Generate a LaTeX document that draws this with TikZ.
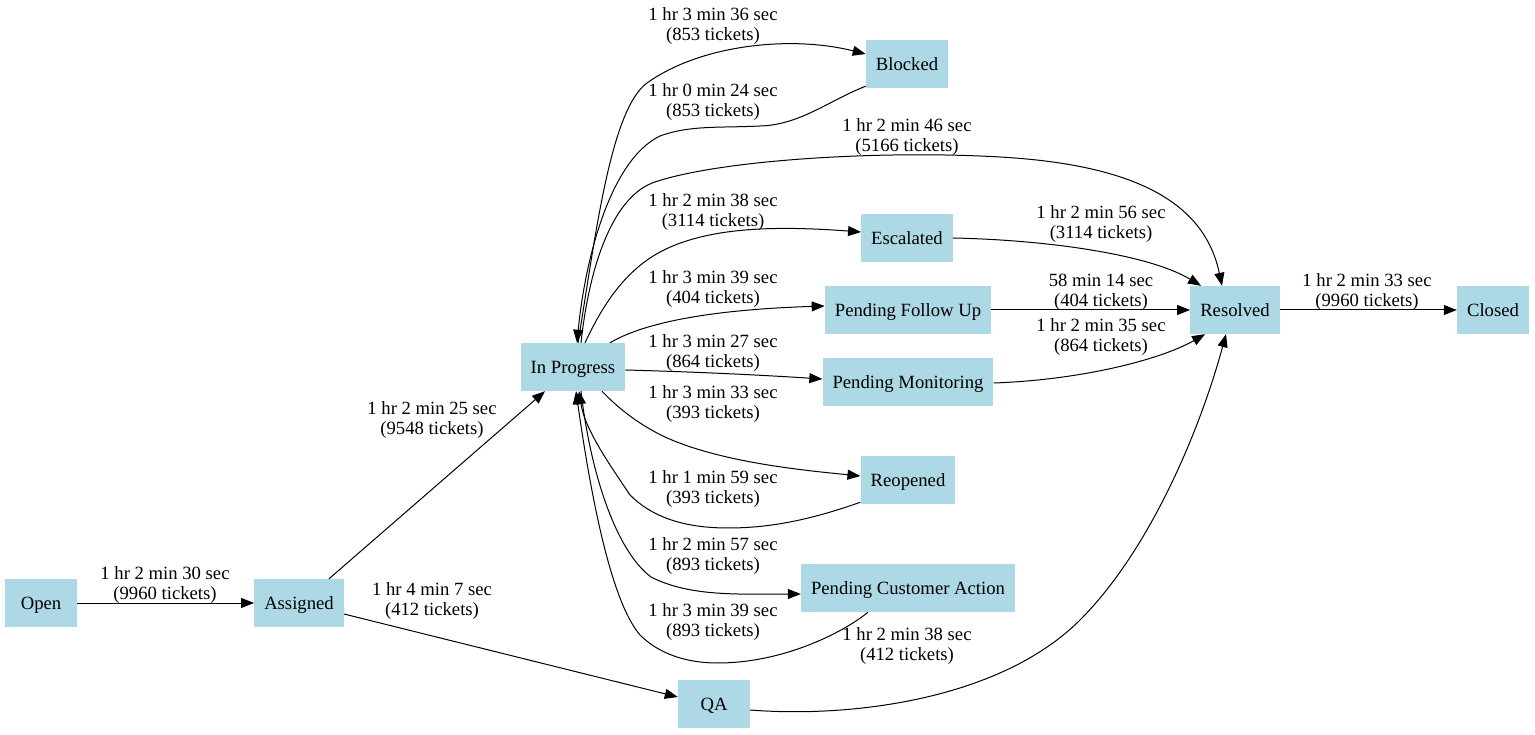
\documentclass[tikz,border=0pt]{standalone}
\usepackage{fontspec}
\setmainfont{Liberation Serif}
\usetikzlibrary{arrows.meta,calc}
\definecolor{lblue}{HTML}{ADD8E6}
\begin{document}
\begin{tikzpicture}[x=1pt,y=-1pt,
  st/.style={fill=lblue, draw=none, minimum width=72pt, minimum height=48pt, inner xsep=10pt, inner ysep=0pt, text height=13pt, text depth=0pt, font=\fontsize{18.67}{20}\selectfont},
  lbl/.style={align=center, font=\fontsize{18.67}{20}\selectfont, inner sep=0pt, yshift=-2pt},
  e/.style={draw=black, line width=1pt, -{Triangle[length=13pt,width=10pt]}},
]
\useasboundingbox (0,0) rectangle (1535,735);
\fill[white] (0,0) rectangle (1535,735);
% nodes
\node[st] (open) at (41,603) {Open};
\node[st] (asg) at (299,603) {Assigned};
\node[st] (ip) at (573,367) {In Progress};
\node[st] (blk) at (907,64) {Blocked};
\node[st] (esc) at (907,238) {Escalated};
\node[st] (pfu) at (908,310) {Pending Follow Up};
\node[st] (pm) at (908,382) {Pending Monitoring};
\node[st] (reo) at (908,480) {Reopened};
\node[st] (pca) at (908,588) {Pending Customer Action};
\node[st] (qa) at (714,704) {QA};
\node[st] (res) at (1235,310) {Resolved};
\node[st] (cls) at (1493,310) {Closed};
% edges
\draw[e] (open) -- (asg);
\draw[e] ($(asg.north)+(30,0)$) -- ($(ip.south)+(-28,0)$);
\draw[e] ($(asg.east)+(0,11)$) -- ($(qa.west)+(0,-7)$);
\draw[e] ($(ip.north)+(5,0)$) .. controls (595,240) and (610,110) .. (647,83)
  .. controls (700,45) and (790,35) .. ($(blk.west)+(0,-10)$);
\draw[e] ($(blk.south west)+(0,-2)$) .. controls (830,100) and (800,125) .. (760,126)
  .. controls (720,128) and (690,125) .. (660,136)
  .. controls (610,160) and (585,260) .. ($(ip.north)+(4,0)$);
\draw[e] ($(ip.north)+(8,0)$) .. controls (590,260) and (615,195) .. (655,182)
  .. controls (720,160) and (880,150) .. (1000,157)
  .. controls (1140,165) and (1205,205) .. ($(res.north)+(-13,0)$);
\draw[e] ($(ip.north)+(12,0)$) .. controls (605,300) and (625,275) .. (650,258)
  .. controls (700,225) and (780,226) .. ($(esc.west)+(0,-6)$);
\draw[e] ($(ip.north)+(37,0)$) .. controls (640,325) and (700,310) .. ($(pfu.west)+(0,-4)$);
\draw[e] ($(ip.east)+(0,3)$) .. controls (700,372) and (760,375) .. ($(pm.west)+(0,-3)$);
\draw[e] ($(ip.south)+(29,0)$) .. controls (620,410) and (640,425) .. (665,437)
  .. controls (720,462) and (800,470) .. ($(reo.west)+(0,-4)$);
\draw[e] ($(reo.south west)+(0,-2)$) .. controls (810,520) and (770,528) .. (728,528)
  .. controls (680,528) and (650,515) .. (630,495)
  .. controls (610,465) and (585,430) .. ($(ip.south)+(6,0)$);
\draw[e] ($(ip.south)+(8,0)$) .. controls (590,470) and (615,550) .. (651,577)
  .. controls (690,597) and (740,594) .. ($(pca.west)+(0,6)$);
\draw[e] ($(pca.south)+(-40,0)$) .. controls (840,635) and (780,663) .. (718,663)
  .. controls (680,663) and (655,650) .. (640,635)
  .. controls (610,600) and (590,490) .. ($(ip.south)+(3,0)$);
\draw[e] ($(qa.east)+(0,6)$) .. controls (850,718) and (1000,700) .. (1080,620)
  .. controls (1150,550) and (1200,430) .. ($(res.south)+(-9,0)$);
\draw[e] (esc.east) .. controls (1050,240) and (1150,255) .. ($(res.north west)+(11,0)$);
\draw[e] (pfu) -- (res);
\draw[e] ($(pm.east)+(0,1)$) .. controls (1080,380) and (1160,360) .. ($(res.south west)+(15,0)$);
\draw[e] (res) -- (cls);
% labels
\node[lbl] (l01) at (165,583) {1 hr 2 min 30 sec\\(9960 tickets)};
\node[lbl] (l02) at (432,418) {1 hr 2 min 25 sec\\(9548 tickets)};
\node[lbl] (l03) at (432,599) {1 hr 4 min 7 sec\\(412 tickets)};
\node[lbl] (l04) at (713,24) {1 hr 3 min 36 sec\\(853 tickets)};
\node[lbl] (l05) at (713,100) {1 hr 0 min 24 sec\\(853 tickets)};
\node[lbl] (l06) at (907,135) {1 hr 2 min 46 sec\\(5166 tickets)};
\node[lbl] (l07) at (713,210) {1 hr 2 min 38 sec\\(3114 tickets)};
\node[lbl] (l08) at (713,287) {1 hr 3 min 39 sec\\(404 tickets)};
\node[lbl] (l09) at (713,351) {1 hr 3 min 27 sec\\(864 tickets)};
\node[lbl] (l10) at (713,402) {1 hr 3 min 33 sec\\(393 tickets)};
\node[lbl] (l11) at (713,487) {1 hr 1 min 59 sec\\(393 tickets)};
\node[lbl] (l12) at (713,554) {1 hr 2 min 57 sec\\(893 tickets)};
\node[lbl] (l13) at (713,620) {1 hr 3 min 39 sec\\(893 tickets)};
\node[lbl] (l14) at (907,644) {1 hr 2 min 38 sec\\(412 tickets)};
\node[lbl] (l15) at (1101,222) {1 hr 2 min 56 sec\\(3114 tickets)};
\node[lbl] (l16) at (1101,290) {58 min 14 sec\\(404 tickets)};
\node[lbl] (l17) at (1101,335) {1 hr 2 min 35 sec\\(864 tickets)};
\node[lbl] (l18) at (1367,290) {1 hr 2 min 33 sec\\(9960 tickets)};
\end{tikzpicture}
\end{document}
